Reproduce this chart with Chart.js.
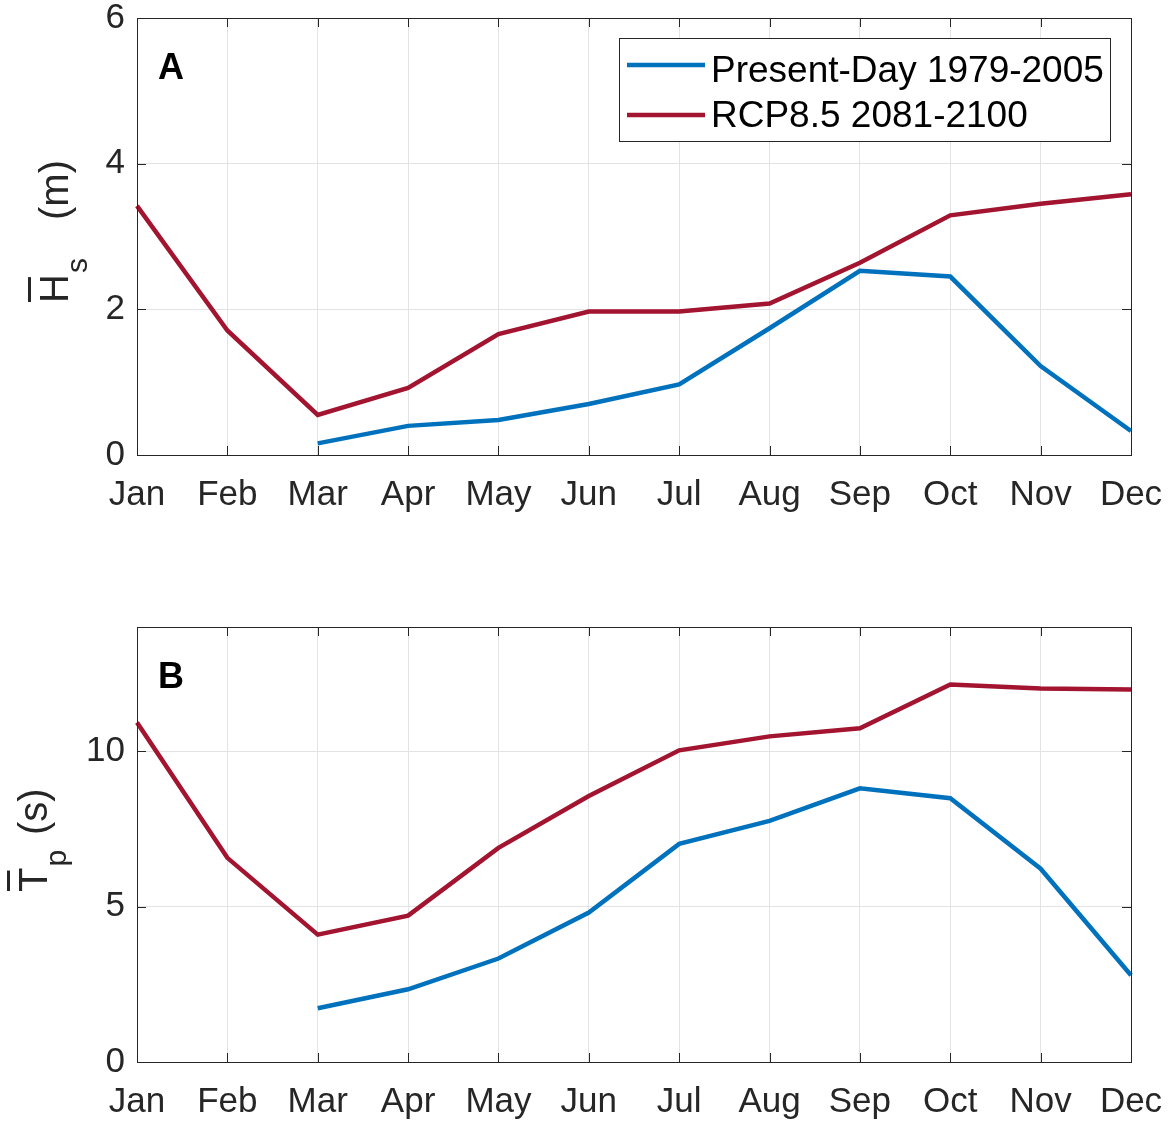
<!DOCTYPE html>
<html>
<head>
<meta charset="utf-8">
<script src="https://cdn.jsdelivr.net/npm/chart.js@4.4.1/dist/chart.umd.min.js"></script>
<style>
  body { margin: 0; background: #fff; width: 1173px; height: 1124px; position: relative; overflow: hidden; }
  .panel { position: absolute; left: 0; width: 1173px; }
  #p1 { top: 0; height: 520px; }
  #p2 { top: 600px; height: 524px; }
</style>
</head>
<body>
<div class="panel" id="p1"><canvas id="c1"></canvas></div>
<div class="panel" id="p2"><canvas id="c2"></canvas></div>
<script>
// ── Data ──
const months = ["Jan", "Feb", "Mar", "Apr", "May", "Jun", "Jul", "Aug", "Sep", "Oct", "Nov", "Dec"];
const seriesNames = ["Present-Day 1979-2005", "RCP8.5 2081-2100"];

const hsPresent = [null, null, 0.16, 0.40, 0.48, 0.70, 0.97, 1.74, 2.53, 2.45, 1.22, 0.33];
const hsFuture  = [3.42, 1.71, 0.55, 0.92, 1.66, 1.97, 1.97, 2.08, 2.64, 3.29, 3.45, 3.58];

const tpPresent = [null, null, 1.73, 2.34, 3.33, 4.81, 7.02, 7.76, 8.81, 8.49, 6.22, 2.79];
const tpFuture  = [10.93, 6.57, 4.10, 4.71, 6.89, 8.56, 10.03, 10.48, 10.74, 12.15, 12.02, 11.99];

const BLUE = "#0072BD", RED = "#A2142F";
const INK = "#262626", GRID = "#e3e3e3";
const FONT = "'Liberation Sans', Arial, Helvetica, sans-serif";

// ── Plugins ──
// box + inward ticks like MATLAB axes
const framePlugin = {
  id: "frame",
  afterDatasetsDraw(chart) {
    const { ctx, chartArea: a, scales } = chart;
    ctx.save();
    ctx.strokeStyle = INK;
    ctx.lineWidth = 1;
    ctx.strokeRect(Math.round(a.left) + 0.5, Math.round(a.top) + 0.5,
      Math.round(a.right - a.left), Math.round(a.bottom - a.top));
    const tl = 9;
    ctx.beginPath();
    scales.x.ticks.forEach((t, i) => {
      const x = Math.round(scales.x.getPixelForTick(i)) + 0.5;
      ctx.moveTo(x, a.bottom); ctx.lineTo(x, a.bottom - tl);
      ctx.moveTo(x, a.top); ctx.lineTo(x, a.top + tl);
    });
    scales.y.ticks.forEach((t, i) => {
      const y = Math.round(scales.y.getPixelForTick(i)) + 0.5;
      ctx.moveTo(a.left, y); ctx.lineTo(a.left + tl, y);
      ctx.moveTo(a.right, y); ctx.lineTo(a.right - tl, y);
    });
    ctx.stroke();
    ctx.restore();
  }
};

// panel letter + rotated y title with overbar and subscript
const annotPlugin = {
  id: "annot",
  afterDraw(chart, args, o) {
    const { ctx, chartArea: a } = chart;
    ctx.save();
    ctx.fillStyle = "#000";
    ctx.font = `bold 36px ${FONT}`;
    ctx.textBaseline = "alphabetic";
    ctx.fillText(o.letter, a.left + 21, a.top + 61);

    ctx.translate(o.baseX, o.startY);
    ctx.rotate(-Math.PI / 2);
    ctx.fillStyle = INK;
    ctx.textAlign = "left";
    ctx.font = `40px ${FONT}`;
    ctx.fillText(o.main, 0, 0);
    const wMain = ctx.measureText(o.main).width;
    ctx.fillRect(1, -40, wMain - 4, 3);
    ctx.font = `30px ${FONT}`;
    ctx.fillText(o.sub, wMain + 1, 19);
    ctx.font = `40px ${FONT}`;
    ctx.fillText(o.unit, o.unitAt, 0);
    ctx.restore();
  }
};

const legendPlugin = {
  id: "boxLegend",
  afterDraw(chart, args, o) {
    if (!o.show) return;
    const { ctx } = chart;
    ctx.save();
    ctx.fillStyle = "#fff";
    ctx.fillRect(619, 38, 491, 103);
    ctx.strokeStyle = INK;
    ctx.lineWidth = 1;
    ctx.strokeRect(619.5, 38.5, 491, 103);
    const rows = [{ ly: 65, ty: 82 }, { ly: 115, ty: 127 }];
    chart.data.datasets.forEach((ds, i) => {
      ctx.strokeStyle = ds.borderColor;
      ctx.lineWidth = 4.5;
      ctx.beginPath();
      ctx.moveTo(627, rows[i].ly); ctx.lineTo(705, rows[i].ly);
      ctx.stroke();
      ctx.fillStyle = "#000";
      ctx.font = `37px ${FONT}`;
      ctx.fillText(ds.label, 711, rows[i].ty);
    });
    ctx.restore();
  }
};

function makeChart(id, present, future, yMax, step, xHeight, padTop, annot, showLegend) {
  return new Chart(document.getElementById(id), {
    type: "line",
    data: {
      labels: months,
      datasets: [
        { label: seriesNames[0], data: present, borderColor: BLUE, borderWidth: 4.5, pointRadius: 0, tension: 0, spanGaps: false },
        { label: seriesNames[1], data: future, borderColor: RED, borderWidth: 4.5, pointRadius: 0, tension: 0 }
      ]
    },
    options: {
      responsive: true, maintainAspectRatio: false, animation: false,
      layout: { padding: { top: padTop, right: 42, left: 0, bottom: 0 } },
      plugins: {
        legend: { display: false }, tooltip: { enabled: false },
        annot, boxLegend: { show: showLegend }
      },
      scales: {
        x: {
          offset: false,
          grid: { color: GRID, drawTicks: false },
          border: { display: false },
          ticks: { color: INK, font: { size: 35, family: FONT }, padding: 19, maxRotation: 0, autoSkip: false },
          afterFit(s) { s.height = xHeight; s.paddingLeft = 0; s.paddingRight = 0; }
        },
        y: {
          min: 0, max: yMax,
          grid: { color: GRID, drawTicks: false },
          border: { display: false },
          ticks: { stepSize: step, color: INK, font: { size: 35, family: FONT }, padding: 12 },
          afterBuildTicks(s) { s.ticks = s.ticks.filter(t => t.value % step === 0); },
          afterFit(s) { s.width = 137; s.paddingTop = 0; s.paddingBottom = 0; }
        }
      }
    },
    plugins: [framePlugin, annotPlugin, legendPlugin]
  });
}

makeChart("c1", hsPresent, hsFuture, 6, 2, 65, 18,
  { letter: "A", main: "H", sub: "s", unit: "(m)", unitAt: 83, baseX: 68, startY: 303 }, true);
makeChart("c2", tpPresent, tpFuture, 14, 5, 62, 27,
  { letter: "B", main: "T", sub: "p", unit: "(s)", unitAt: 57, baseX: 47, startY: 292 }, false);
</script>
</body>
</html>
